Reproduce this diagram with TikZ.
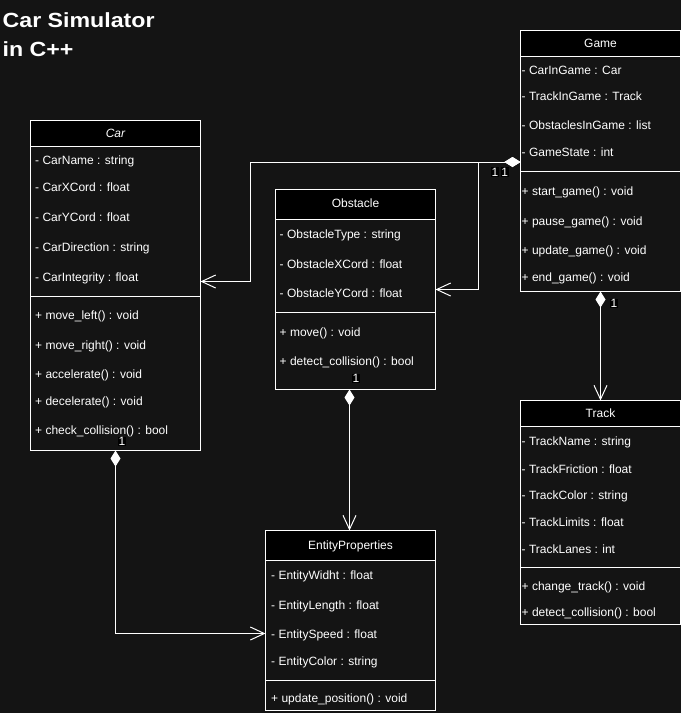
\documentclass[tikz,border=0pt]{standalone}
\usepackage{fontspec}
\usepackage{graphicx}
\setmainfont{Liberation Sans}
\usetikzlibrary{arrows.meta,calc}
\definecolor{bg}{HTML}{141414}
\tikzset{
  classbox/.style={draw=white, line width=1pt, anchor=north west, inner sep=0pt, outer sep=0pt},
  hdr/.style={fill=black, draw=white, line width=1pt},
  sepline/.style={draw=white, line width=1pt},
  member/.style={anchor=base west, text=white, font=\fontsize{12}{14}\selectfont, inner sep=0pt},
  cname/.style={anchor=base, text=white, font=\fontsize{12}{14}\selectfont, inner sep=0pt},
  ttl/.style={anchor=base west, text=white, font=\bfseries\fontsize{20.5}{24}\selectfont, inner sep=0pt},
  comp/.style={draw=white, line width=1pt,
    {Diamond[length=16pt,width=10pt,fill=white]}-{Straight Barb[length=14pt,width=13pt]}},
  mult/.style={fill=black, text=white, font=\fontsize{12}{13}\selectfont, inner sep=0.6pt}
}
\begin{document}
\begin{tikzpicture}[x=1pt,y=-1pt]
\fill[bg] (0,0) rectangle (681,713);
\useasboundingbox (0,0) rectangle (681,713);

% title
\node[ttl] (t1) at (2.5,27.3) {\scalebox{1.13}[1]{Car Simulator}};
\node[ttl] (t2) at (2.5,56) {\scalebox{1.13}[1]{in C++}};

% ---------- Car ----------
\node[classbox, minimum width=170, minimum height=330] (car) at (30.5,120.5) {};
\filldraw[hdr] (car.north west) rectangle ($(car.north east)+(0,26)$);
\draw[sepline] ($(car.north west)+(0,176)$) -- ($(car.north east)+(0,176)$);
\node[cname, font=\itshape\fontsize{12}{14}\selectfont] (carh) at (115.5,137.8) {Car};
\node[member] (c1) at (35,164.3) {- CarName : string};
\node[member] (c2) at (35,191.3) {- CarXCord : float};
\node[member] (c3) at (35,221.3) {- CarYCord : float};
\node[member] (c4) at (35,251.3) {- CarDirection : string};
\node[member] (c5) at (35,281.3) {- CarIntegrity : float};
\node[member] (c6) at (35,319.5) {+ move\_left() : void};
\node[member] (c7) at (35,349.5) {+ move\_right() : void};
\node[member] (c8) at (35,378) {+ accelerate() : void};
\node[member] (c9) at (35,405) {+ decelerate() : void};
\node[member] (c10) at (35,434) {+ check\_collision() : bool};

% ---------- Obstacle ----------
\node[classbox, minimum width=160, minimum height=200] (obs) at (275.5,189.5) {};
\filldraw[hdr] (obs.north west) rectangle ($(obs.north east)+(0,30)$);
\draw[sepline] ($(obs.north west)+(0,123)$) -- ($(obs.north east)+(0,123)$);
\node[cname] (obsh) at (355.5,207.7) {Obstacle};
\node[member] (o1) at (279.5,238.5) {- ObstacleType : string};
\node[member] (o2) at (279.5,268.5) {- ObstacleXCord : float};
\node[member] (o3) at (279.5,297.8) {- ObstacleYCord : float};
\node[member] (o4) at (279.5,336) {+ move() : void};
\node[member] (o5) at (279.5,365) {+ detect\_collision() : bool};

% ---------- Game ----------
\node[classbox, minimum width=160, minimum height=261] (game) at (520.5,30.5) {};
\filldraw[hdr] (game.north west) rectangle ($(game.north east)+(0,26)$);
\draw[sepline] ($(game.north west)+(0,141)$) -- ($(game.north east)+(0,141)$);
\node[cname] (gameh) at (600.5,47.8) {Game};
\node[member] (g1) at (521.5,74.5) {- CarInGame : Car};
\node[member] (g2) at (521.5,100.5) {- TrackInGame : Track};
\node[member] (g3) at (521.5,129.5) {- ObstaclesInGame : list};
\node[member] (g4) at (521.5,156) {- GameState : int};
\node[member] (g5) at (521.5,195) {+ start\_game() : void};
\node[member] (g6) at (521.5,225) {+ pause\_game() : void};
\node[member] (g7) at (521.5,254.5) {+ update\_game() : void};
\node[member] (g8) at (521.5,281) {+ end\_game() : void};

% ---------- Track ----------
\node[classbox, minimum width=160, minimum height=224] (track) at (520.5,400.5) {};
\filldraw[hdr] (track.north west) rectangle ($(track.north east)+(0,26)$);
\draw[sepline] ($(track.north west)+(0,167)$) -- ($(track.north east)+(0,167)$);
\node[cname] (trackh) at (600.5,417.8) {Track};
\node[member] (k1) at (521.5,445) {- TrackName : string};
\node[member] (k2) at (521.5,473.5) {- TrackFriction : float};
\node[member] (k3) at (521.5,499.5) {- TrackColor : string};
\node[member] (k4) at (521.5,526) {- TrackLimits : float};
\node[member] (k5) at (521.5,553) {- TrackLanes : int};
\node[member] (k6) at (521.5,590) {+ change\_track() : void};
\node[member] (k7) at (521.5,616) {+ detect\_collision() : bool};

% ---------- EntityProperties ----------
\node[classbox, minimum width=170, minimum height=180] (ent) at (265.5,530.5) {};
\filldraw[hdr] (ent.north west) rectangle ($(ent.north east)+(0,30)$);
\draw[sepline] ($(ent.north west)+(0,150)$) -- ($(ent.north east)+(0,150)$);
\node[cname] (enth) at (350.5,549.5) {EntityProperties};
\node[member] (e1) at (271,579.5) {- EntityWidht : float};
\node[member] (e2) at (271,609.5) {- EntityLength : float};
\node[member] (e3) at (271,638) {- EntitySpeed : float};
\node[member] (e4) at (271,665) {- EntityColor : string};
\node[member] (e5) at (271,702) {+ update\_position() : void};

% ---------- connectors ----------
\coordinate (gameL) at ($(game.north west)+(0,131.5)$);
\coordinate (carR) at ($(car.north east)+(0,161)$);
\coordinate (obsR) at ($(obs.north east)+(0,100)$);
\coordinate (obsB) at ($(obs.south)+(-6,0)$);
\coordinate (entL) at ($(ent.north west)+(0,103)$);

\draw[comp] (gameL) -| (250.5,200) |- (carR);
\draw[comp] (gameL) -| (478.5,200) |- (obsR);
\draw[comp] (game.south) -- (track.north);
\draw[comp] (obsB) -- (obsB |- ent.north);
\draw[comp] (car.south) |- (entL);

% multiplicities
\node[mult] (m1) at (495,172) {1};
\node[mult] (m2) at (504.7,172) {1};
\node[mult] (m3) at (614,303.5) {1};
\node[mult] (m4) at (356,378.5) {1};
\node[mult] (m5) at (122,441.5) {1};
\end{tikzpicture}
\end{document}
